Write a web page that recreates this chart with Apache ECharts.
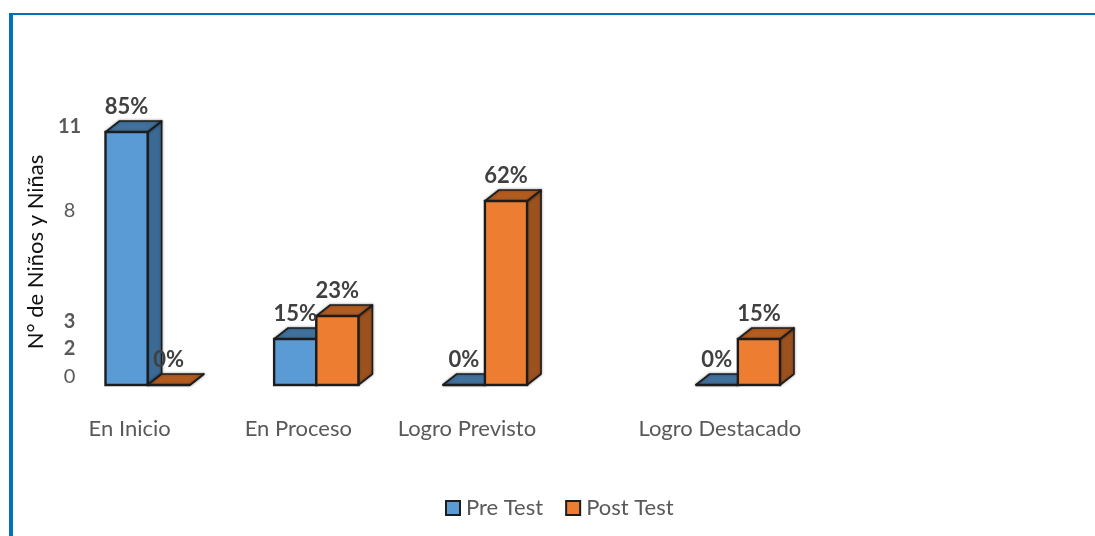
<!DOCTYPE html>
<html>
<head>
<meta charset="utf-8">
<title>Pre Test / Post Test</title>
<script src="https://cdn.jsdelivr.net/npm/echarts@6/dist/echarts.min.js"></script>
<style>
	html,body{margin:0;padding:0;background:#fff;overflow:hidden;}
	#frame{position:absolute;left:9px;top:13px;right:0;bottom:0;border-top:2px solid #0070c0;border-left:4px solid #0070c0;}
	#main{position:absolute;left:0;top:0;width:1095px;height:536px;}
</style>
</head>
<body>
<div id="frame"></div>
<div id="main"></div>
<script>
// empty categories keep the wider gap in front of the last group
var categories = ['En Inicio','','En Proceso','','Logro Previsto','','','Logro Destacado'];
var preValues  = [11,null,2,null,0,null,null,0];
var postValues = [0,null,3,null,8,null,null,2];
var preLabels  = ['85%',null,'15%',null,'0%',null,null,'0%'];
var postLabels = ['0%',null,'23%',null,'62%',null,null,'15%'];
var yTicks = [0,2,3,8,11];

var fontName = 'Lato';
var chart = echarts.init(document.getElementById('main'));

//front, side and top colors of a bar
var preColors  = {front:'#5b9bd5',side:'#3b6a94',top:'#41719c'};
var postColors = {front:'#ed7d31',side:'#9c521f',top:'#b35c20'};
var depthX = 14, depthY = 11;

function box(colors,dir,labels){
	return function(params,api){
		var i = api.value(0);
		var p = api.coord([i,api.value(1)]);
		var base = api.coord([i,0]);
		var w = api.size([1,0])[0]/2;
		//groups sit to the right of their axis label
		var cx = base[0]+18;
		var x0 = dir<0 ? cx-w : cx;
		var x1 = x0+w;
		var y0 = p[1], y1 = base[1];
		var line = {stroke:'#1c1c1c',lineWidth:1.6,lineJoin:'round'};
		var glow = {shadowBlur:3,shadowColor:'rgba(0,0,0,0.35)'};
		return {type:'group',children:[
			{type:'polygon',shape:{points:[[x1,y1],[x1+depthX,y1-depthY],[x1+depthX,y0-depthY],[x1,y0]]},
				style:Object.assign({fill:colors.side},line,glow)},
			{type:'polygon',shape:{points:[[x0,y0],[x0+depthX,y0-depthY],[x1+depthX,y0-depthY],[x1,y0]]},
				style:Object.assign({fill:colors.top},line,glow)},
			{type:'rect',shape:{x:x0,y:y0,width:w,height:y1-y0},
				style:{fill:colors.front,stroke:'#1c1c1c',lineWidth:2.4}},
			{type:'text',z2:20,style:{text:labels[i],x:(x0+x1)/2,y:y0-depthY-14,align:'center',verticalAlign:'middle',
				fill:'#404040',font:'bold 22px '+fontName}}
		]};
	};
}

function seriesData(values){
	var out = [];
	for(var i=0;i<values.length;i++){
		if(values[i]!==null){
			out.push([i,values[i]]);
		}
	}
	return out;
}

var option = {
	animation:false,
	backgroundColor:'transparent',
	textStyle:{fontFamily:fontName},
	grid:{left:87.5,right:333,top:109,bottom:151},
	legend:{
		left:440,top:492,
		itemWidth:14,itemHeight:14,itemGap:22,
		icon:'rect',
		textStyle:{color:'#595959',fontSize:22,fontFamily:fontName,padding:[0,0,0,1]},
		data:['Pre Test','Post Test']
	},
	xAxis:{
		type:'category',
		data:categories,
		axisLine:{show:false},
		axisTick:{show:false},
		axisLabel:{interval:0,margin:33,color:'#595959',fontSize:22,fontFamily:fontName}
	},
	yAxis:{
		type:'value',
		min:0,max:12,
		name:'N° de Niños y Niñas',
		nameLocation:'middle',
		nameGap:41,
		nameTextStyle:{color:'#111',fontSize:22,fontFamily:fontName,padding:[0,10,0,0]},
		axisLine:{show:false},
		axisTick:{show:false},
		splitLine:{show:false},
		axisLabel:{
			customValues:yTicks,
			margin:18,
			align:'center',
			formatter:function(v){ return '{t'+v+'|'+v+'}'; },
			rich:{
				t0:{color:'#595959',fontSize:20,padding:[0,0,16,0]},
				t2:{color:'#595959',fontSize:20,fontWeight:'bold',padding:[20,0,0,0]},
				t3:{color:'#595959',fontSize:20,fontWeight:'bold',padding:[12,0,0,0]},
				t8:{color:'#595959',fontSize:20,padding:[20,0,0,0]},
				t11:{color:'#595959',fontSize:20,fontWeight:'bold',padding:[0,0,10,0]}
			}
		}
	},
	series:[
		{name:'Pre Test',type:'custom',data:seriesData(preValues),encode:{x:0,y:1},
			itemStyle:{color:preColors.front,borderColor:'#1c1c1c',borderWidth:2},
			renderItem:box(preColors,-1,preLabels)},
		{name:'Post Test',type:'custom',data:seriesData(postValues),encode:{x:0,y:1},
			itemStyle:{color:postColors.front,borderColor:'#1c1c1c',borderWidth:2},
			renderItem:box(postColors,1,postLabels)}
	]
};
chart.setOption(option);
</script>
</body>
</html>
